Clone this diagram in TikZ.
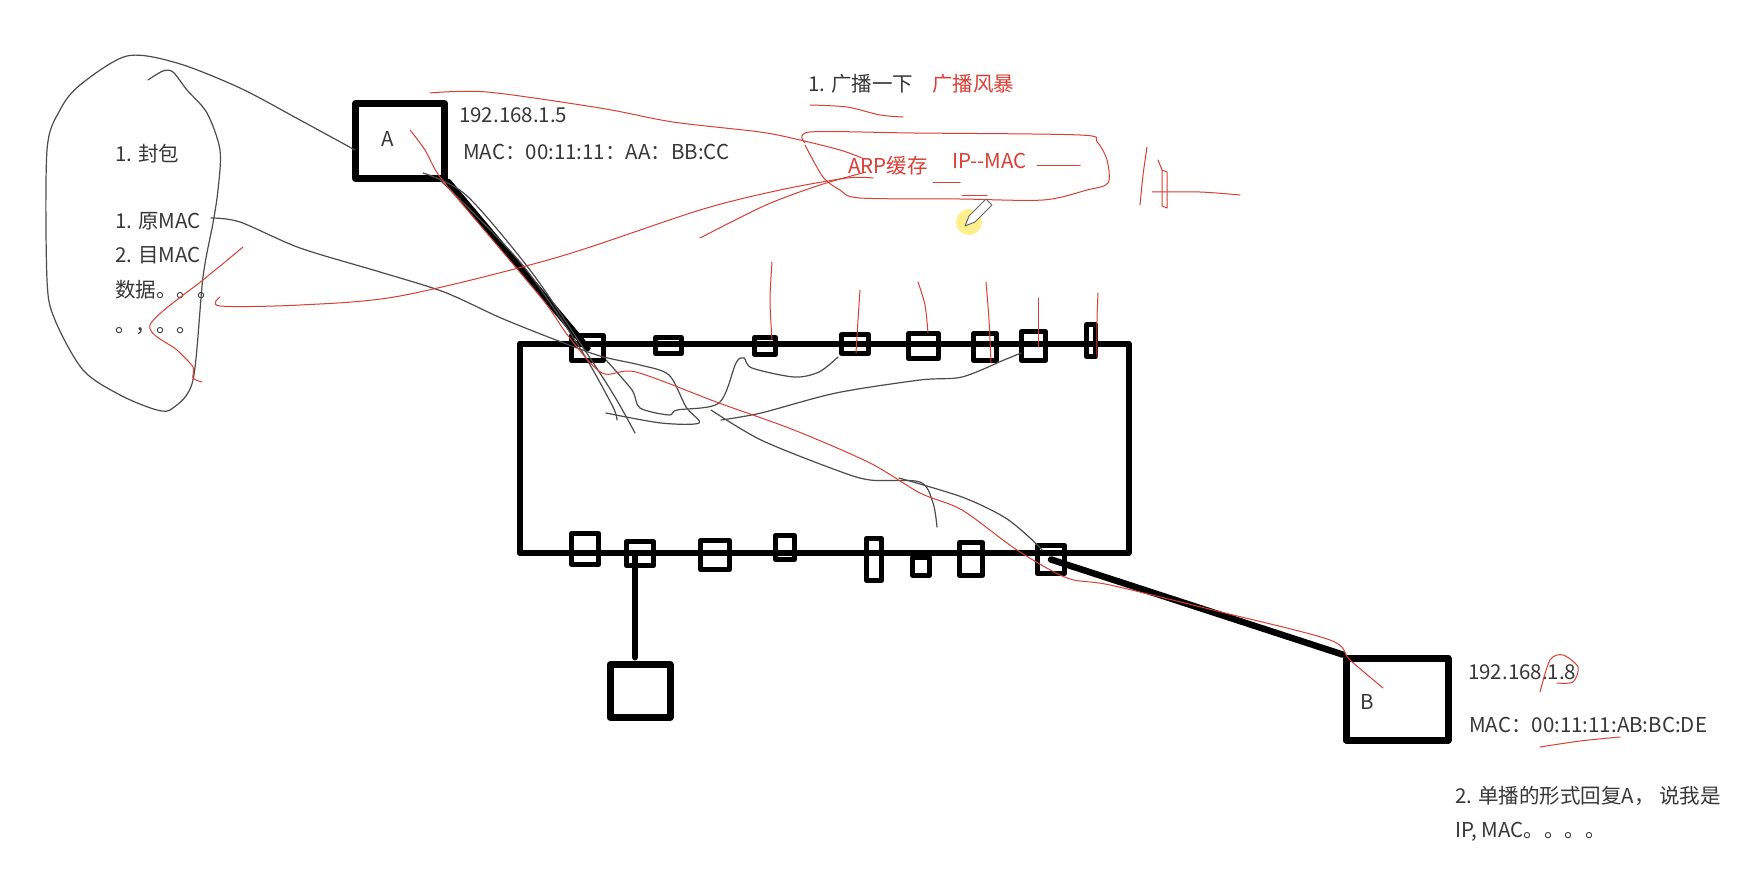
\documentclass[tikz,border=0pt]{standalone}
\usepackage{fontspec}
\newfontfamily\cjk{Noto Sans CJK SC}
\definecolor{penred}{RGB}{218,62,52}
\definecolor{textgray}{RGB}{55,55,55}
\begin{document}
\begin{tikzpicture}[x=1pt, y=-1pt, line cap=round, line join=round,
  font=\cjk\fontsize{20.5}{24}\selectfont,
  box/.style={draw, line width=7pt, inner sep=0pt},
  port/.style={draw, line width=5pt, inner sep=0pt},
  link/.style={line width=6.5pt},
  ink/.style={black!70, line width=1.2pt},
  redink/.style={penred, line width=1pt},
  txt/.style={anchor=base west, inner sep=0pt, text=textgray},
  redtxt/.style={anchor=base west, inner sep=0pt, text=penred}]
\fill[white] (0,0) rectangle (1740,872);
\useasboundingbox (0,0) rectangle (1740,872);
\node[box, minimum width=89.5pt, minimum height=75pt] (A) at (400,141) {};
\node[box, minimum width=102pt, minimum height=82pt] (B) at (1397,699) {};
\node[box, minimum width=60pt, minimum height=52.5pt] (pc) at (640,691) {};
\node[draw, line width=6pt, minimum width=609pt, minimum height=209.5pt] (sw) at (824,448.25) {};
\foreach \n/\x/\y/\w/\h in {1/587.5/348/32/25, 2/668.5/345.5/26/16, 3/765/346/21/17, 4/855/344/27/19,
  5/923.5/346/30/25, 6/985/347/23/27, 7/1033.5/346/24/29, 8/1091/340.5/9/32}
  \node[port, minimum width=\w pt, minimum height=\h pt] (tp\n) at (\x,\y) {};
\foreach \n/\x/\y/\w/\h in {1/585/549/27/31, 2/640/553.5/27/24, 3/715/555/29/29, 4/785/547.5/19/24,
  5/874/559.5/15/42, 6/921/566.5/17/18, 7/971/559/23/33, 8/1051/559.5/27/28}
  \node[port, minimum width=\w pt, minimum height=\h pt] (bp\n) at (\x,\y) {};
\draw[link] (A.south east) -- (tp1.center);
\draw[link] (bp8.center) -- (B.north west);
\draw[link] ([xshift=-5pt]bp2.center) -- ([xshift=-5pt,yshift=4pt]pc.north);
\node[txt] at (388,139) [anchor=center] {A};
\node[txt] at (1367,702) [anchor=center] {B};
\node[txt] (ipA) at (459,123) {192.168.1.5};
\node[txt] (macA) at (463,160) {MAC：00:11:11：AA：BB:CC};
\node[txt] (ipB) at (1468,679) {192.168.1.8};
\node[txt] (macB) at (1469,732) {MAC：00:11:11:AB:BC:DE};
\node[txt] (reply) at (1455,803) {2. 单播的形式回复A， 说我是};
\node[txt] (reply2) at (1455,837) {IP, MAC。。。。};
\node[txt] (pack) at (115,161) {1. 封包};
\node[txt] (src) at (115,228) {1. 原MAC};
\node[txt] (dst) at (115,262) {2. 目MAC};
\node[txt] (data) at (115,297) {数据。。。};
\node[txt] (dots) at (115,332) {。，。。};
\node[txt] (bcast) at (808,92) {1. 广播一下};
\node[redtxt] (storm) at (932,92) {广播风暴};
\node[redtxt] (arp) at (848,173) {ARP缓存};
\node[redtxt] (ipmac) at (952,168) {IP--MAC};
\draw[ink] plot[smooth] coordinates {(148,80) (163,71) (173,72) (187,90) (207,113) (220,150) (218,190) (213,223)
  (203,277) (193,380) (173,408) (157,410) (120,395) (83,370) (55,320) (47,280) (47,150) (60,110) (80,85)
  (127,56) (177,63) (240,88) (300,120) (355,150)};
\draw[ink] plot[smooth] coordinates {(211,218) (240,222) (300,248) (380,272) (444,292) (501,318) (556,340)
  (600,356) (640,365) (669,375) (686,407) (699,423) (661,423) (606,413)};
\draw[ink] plot[smooth] coordinates {(423,173) (466,195) (530,270) (588,355) (615,397) (635,433)};
\draw[ink] plot[smooth] coordinates {(440,180) (520,262) (578,345) (612,405) (617,420)};
\draw[ink] plot[smooth] coordinates {(606,360) (632,390) (640,408) (669,415) (677,410) (719,403) (736,363)
  (744,358) (752,368) (794,377) (819,372) (838,357)};
\draw[ink] plot[smooth] coordinates {(721,420) (761,413) (836,393) (920,380) (962,377) (1004,360) (1021,353)};
\draw[ink] plot[smooth] coordinates {(711,410) (761,440) (836,470) (870,480) (920,482) (933,503) (937,527)};
\draw[ink] plot[smooth] coordinates {(899,478) (962,497) (1004,517) (1029,537) (1042,550)};
\draw[redink] plot[smooth] coordinates {(410,130) (425,150) (440,177) (480,225) (543,300) (569,337) (602,373)
  (636,372) (719,403) (794,430) (870,463) (920,493) (962,510) (1017,550) (1067,578) (1110,585) (1221,612)
  (1330,640) (1350,660) (1383,688)};
\draw[redink] plot[smooth] coordinates {(430,93) (487,92) (600,108) (673,122) (760,132) (800,140) (840,150) (862,158)};
\draw[redink] plot[smooth] coordinates {(805,143) (810,132) (913,133) (1080,135) (1097,142) (1107,160) (1108,183)
  (1087,190) (1043,200) (960,199) (860,198) (840,190) (823,177) (805,145)};
\draw[redink] plot[smooth] coordinates {(220,297) (220,306) (300,305) (400,296) (555,258) (700,210) (780,190) (847,178) (873,178)};
\draw[redink] plot[smooth] coordinates {(700,238) (766,205) (820,185) (866,172)};
\draw[redink] plot[smooth] coordinates {(810,105) (847,107) (880,115) (903,117)};
\draw[redink] (933,182) -- (960,182) (962,195) -- (987,195) (1037,165) -- (1080,165);
\draw[redink] plot[smooth] coordinates {(1147,147) (1143,175) (1140,205)};
\draw[redink] (1158,160) -- (1162,170) -- (1167,172) -- (1167,208) -- (1162,206) -- (1162,170);
\draw[redink] plot[smooth] coordinates {(1152,192) (1200,192) (1240,195)};
\draw[redink] plot[smooth] coordinates {(243,247) (225,262) (203,280) (150,325) (177,350) (193,367) (193,378) (202,382)};
\foreach \x/\ya/\xb/\yb/\xc/\yc in {772/262/770/300/772/340, 860/290/858/320/856/353, 918/282/925/305/928/333,
  986/282/989/320/991/363, 1038/298/1038/320/1038/347, 1098/293/1097/320/1097/357}
  \draw[redink] plot[smooth] coordinates {(\x,\ya) (\xb,\yb) (\xc,\yc)};
\draw[redink] plot[smooth] coordinates {(1540,692) (1550,660) (1563,655) (1578,667) (1573,682) (1557,683)};
\draw[redink] plot[smooth] coordinates {(1540,747) (1580,741) (1620,737)};
\fill[yellow!80!orange, opacity=0.45] (969,222) circle (13);
\draw[black!60, fill=white, line width=1pt] (965,226) -- (969,216) -- (986,199) -- (992,205) -- (975,222) -- cycle;
\end{tikzpicture}
\end{document}
